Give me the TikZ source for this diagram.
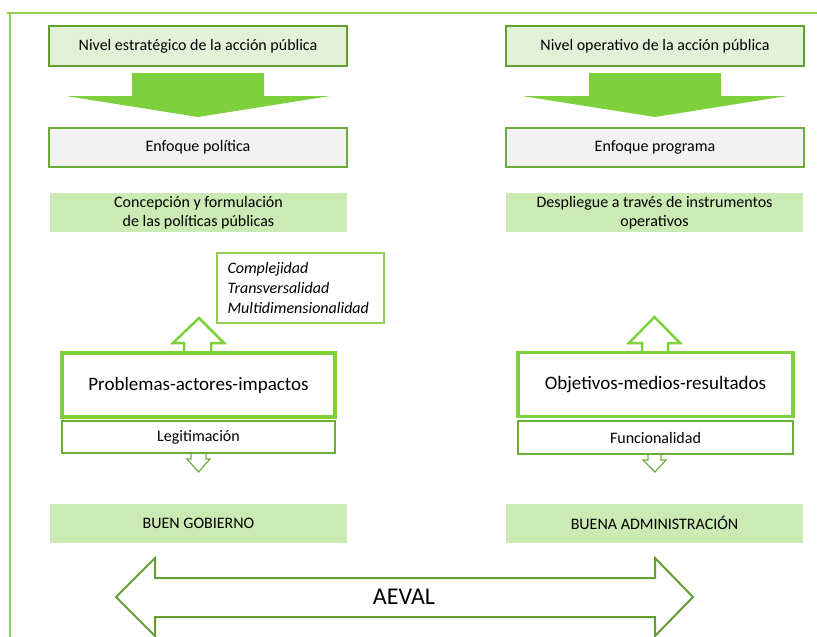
\documentclass[tikz,border=0pt]{standalone}
\usepackage{fontspec}
\setmainfont{Carlito}
\definecolor{frameg}{RGB}{146,208,80}
\definecolor{darkg}{RGB}{98,158,50}
\definecolor{brightg}{RGB}{126,208,60}
\definecolor{nivfill}{RGB}{226,242,217}
\definecolor{enffill}{RGB}{242,242,242}
\definecolor{confill}{RGB}{204,235,180}
\definecolor{thing}{RGB}{107,174,62}
\tikzset{
  nivbox/.style={draw=darkg, line width=2.5pt, fill=nivfill, minimum width=298pt, minimum height=40pt, inner sep=0pt, font=\fontsize{16}{19}\selectfont},
  enfbox/.style={draw=thing, line width=2pt, fill=enffill, minimum width=298pt, minimum height=39pt, inner sep=0pt, font=\fontsize{16}{19}\selectfont},
  conbox/.style={fill=confill, minimum width=297pt, minimum height=39pt, inner sep=0pt, align=center, font=\fontsize{16}{19}\selectfont},
  bigbox/.style={draw=brightg, line width=3.2pt, fill=white, minimum height=64pt, inner sep=0pt, font=\fontsize{19}{22}\selectfont},
  subbox/.style={draw=thing, line width=1.3pt, fill=white, minimum height=32pt, inner sep=0pt, font=\fontsize{16}{19}\selectfont},
  fillarrow/.style={fill=brightg},
  hollowup/.style={draw=brightg, line width=2.5pt, line join=miter},
  hollowdown/.style={draw=thing, line width=1.2pt, line join=miter},
  bigarrow/.style={draw=darkg, line width=2pt, line join=miter},
  framel/.style={draw=frameg, line width=2pt}
}
\begin{document}
\begin{tikzpicture}[x=1pt, y=-1pt]
\useasboundingbox (0,0) rectangle (817,637);
% frame
\draw[framel] (7,13) -- (817,13);
\draw[framel] (10,13) -- (10,637);
% top level boxes
\node[nivbox] (niv1) at (198,46) {Nivel estratégico de la acción pública};
\node[nivbox] (niv2) at (655,46) {Nivel operativo de la acción pública};
% filled arrows
\fill[fillarrow] (132,73) -- (264,73) -- (264,96) -- (330,96) -- (198,117) -- (66,96) -- (132,96) -- cycle;
\fill[fillarrow] (589,73) -- (721,73) -- (721,96) -- (787,96) -- (655,117) -- (522,96) -- (589,96) -- cycle;
% enfoque
\node[enfbox] (enf1) at (198,147.5) {Enfoque política};
\node[enfbox] (enf2) at (655,147.5) {Enfoque programa};
% concepcion
\node[conbox] (con1) at (198.5,212.5) {Concepción y formulación\\de las políticas públicas};
\node[conbox] (con2) at (654.5,212.5) {Despliegue a través de instrumentos\\operativos};
% complejidad
\node[draw=frameg, line width=1.3pt, minimum width=167pt, minimum height=70pt, inner sep=0pt, text width=146pt, align=left, font=\fontsize{16}{20}\selectfont\itshape] (comp) at (300.5,288) {Complejidad\\Transversalidad\\Multidimensionalidad};
% hollow up arrows
\draw[hollowup] (184,353) -- (184,343) -- (173,343) -- (199,318) -- (224,343) -- (211,343) -- (211,353);
\draw[hollowup] (642,352) -- (642,343) -- (629,343) -- (654.5,317) -- (680,343) -- (668,343) -- (668,352);
% big boxes
\node[bigbox, minimum width=273pt] (prob) at (198.5,385) {Problemas-actores-impactos};
\node[bigbox, minimum width=275pt] (obj) at (655.5,384.5) {Objetivos-medios-resultados};
% sub boxes
\node[subbox, minimum width=273pt] (leg) at (198.5,437) {Legitimación};
\node[subbox, minimum width=275pt, minimum height=33pt] (fun) at (655.5,437.5) {Funcionalidad};
% small hollow down arrows
\draw[hollowdown] (191,453) -- (191,459) -- (187,459) -- (198.5,472) -- (210,459) -- (206,459) -- (206,453);
\draw[hollowdown] (648,454) -- (648,460) -- (643,460) -- (655,472) -- (666,460) -- (661,460) -- (661,454);
% bottom boxes
\node[conbox] (bg) at (198.5,523) {BUEN GOBIERNO};
\node[conbox] (ba) at (654.5,523) {BUENA ADMINISTRACIÓN};
% big double arrow
\draw[bigarrow] (116,597) -- (155,558) -- (155,578) -- (655,578) -- (655,558) -- (693,597) -- (655,636) -- (655,617) -- (155,617) -- (155,636) -- cycle;
\node[font=\fontsize{24}{28}\selectfont] (aeval) at (404,597) {AEVAL};
\end{tikzpicture}
\end{document}
